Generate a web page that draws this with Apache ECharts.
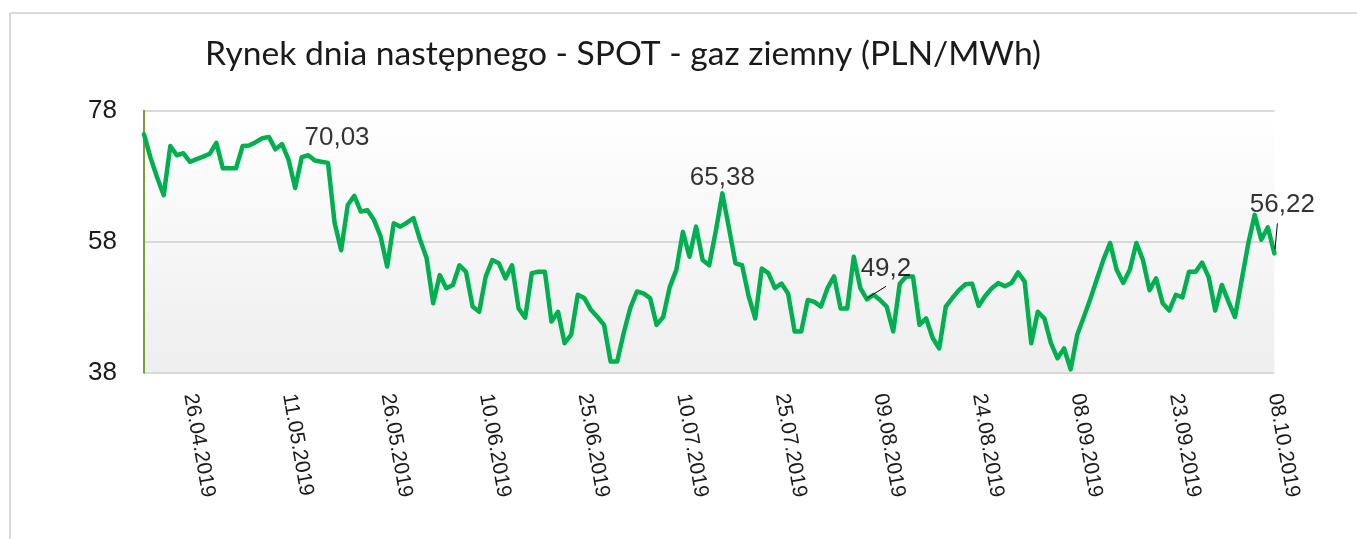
<!DOCTYPE html>
<html><head><meta charset="utf-8">
<script src="https://cdn.jsdelivr.net/npm/echarts@6/dist/echarts.min.js"></script>
<style>html,body{margin:0;padding:0;background:#fff}#c{width:1357px;height:539px}</style>
</head><body><div id="c"></div>
<script>
const chartTitle = 'Rynek dnia następnego - SPOT - gaz ziemny (PLN/MWh)';
const startDate = '2019-04-19';
const prices = [
  74.4, 70.8, 67.8, 65.1, 72.6, 71.2, 71.5, 70.2, 70.6, 71.0,
  71.4, 73.1, 69.2, 69.2, 69.2, 72.6, 72.7, 73.2, 73.8, 74.0,
  72.1, 72.9, 70.5, 66.2, 70.9, 71.2, 70.4, 70.2, 70.03, 60.9,
  56.7, 63.6, 65.0, 62.6, 62.8, 61.3, 58.8, 54.2, 60.8, 60.3,
  60.9, 61.6, 58.3, 55.5, 48.6, 52.9, 50.9, 51.4, 54.4, 53.4,
  48.1, 47.3, 52.7, 55.2, 54.7, 52.4, 54.4, 47.8, 46.4, 53.2,
  53.4, 53.4, 45.8, 47.3, 42.5, 43.8, 49.9, 49.4, 47.6, 46.5,
  45.3, 39.7, 39.7, 44.1, 47.9, 50.4, 50.1, 49.4, 45.3, 46.5,
  51.1, 53.7, 59.5, 55.7, 60.3, 55.2, 54.4, 59.6, 65.38, 60.1,
  54.7, 54.4, 49.7, 46.3, 53.9, 53.2, 50.9, 51.6, 50.1, 44.3,
  44.3, 49.1, 48.8, 48.1, 50.9, 52.7, 47.8, 47.8, 55.7, 50.9,
  49.2, 49.9, 49.1, 48.1, 44.3, 51.6, 52.7, 52.7, 45.3, 46.3,
  43.3, 41.7, 48.1, 49.4, 50.6, 51.5, 51.6, 48.2, 49.7, 50.9,
  51.7, 51.2, 51.7, 53.3, 51.9, 42.5, 47.3, 46.3, 42.5, 40.2,
  41.7, 38.5, 43.8, 46.5, 49.3, 52.3, 55.3, 57.8, 53.7, 51.7,
  53.7, 57.8, 55.2, 50.6, 52.4, 48.6, 47.5, 49.9, 49.5, 53.4,
  53.4, 54.8, 52.6, 47.5, 51.4, 48.9, 46.5, 52.0, 57.6, 62.1,
  58.3, 60.2, 56.22
];
const yTicks = [38, 58, 78];
const labelledIdx = [28, 88, 110, 172];
const leaderIdx = [110, 172];

// category dates (dd.mm.yyyy), one per price
const categories = [];
(function () {
  const d0 = new Date(startDate + 'T00:00:00Z');
  for (let i = 0; i < prices.length; i++) {
    const d = new Date(d0.getTime() + i * 86400000);
    const dd = String(d.getUTCDate()).padStart(2, '0');
    const mm = String(d.getUTCMonth() + 1).padStart(2, '0');
    categories.push(dd + '.' + mm + '.' + d.getUTCFullYear());
  }
})();

const labelOffsets = {28: [9, -25], 88: [0, -16], 110: [19, -31], 172: [8, -49]};
// leader line segments relative to the data point (pixels)
const leaderSeg = {110: [[0, -1], [19, -13]], 172: [[0.6, -4], [3, -30]]};

const chart = echarts.init(document.getElementById('c'), null, {renderer: 'canvas'});
const borderGraphics = [
  {type: 'line', shape: {x1: 10, y1: 13, x2: 1357, y2: 13}, style: {stroke: '#d9d9d9', lineWidth: 2}, silent: true},
  {type: 'line', shape: {x1: 10, y1: 13, x2: 10, y2: 539}, style: {stroke: '#d9d9d9', lineWidth: 2}, silent: true}
];
chart.setOption({
  animation: false,
  backgroundColor: '#ffffff',
  title: {
    text: chartTitle, left: 205, top: 37, padding: 0,
    textStyle: {fontFamily: 'Lato', fontSize: 33.6, fontWeight: 'normal', color: '#1a1a1a'}
  },
  graphic: borderGraphics,
  grid: {
    left: 144, top: 110.7, right: 82.6, bottom: 166.3,
    show: true, borderWidth: 0,
    backgroundColor: new echarts.graphic.LinearGradient(0, 0, 0, 1, [
      {offset: 0, color: '#ffffff'}, {offset: 1, color: '#eeeeee'}
    ])
  },
  xAxis: {
    type: 'category', data: categories, boundaryGap: false,
    axisLine: {show: false}, axisTick: {show: false},
    axisLabel: {
      rotate: -80, margin: 21, fontSize: 21, color: '#1a1a1a',
      fontFamily: 'Liberation Sans',
      interval: function (i) { return i >= 7 && (i - 7) % 15 === 0; }
    },
    splitLine: {show: false}
  },
  yAxis: {
    type: 'value', min: yTicks[0], max: yTicks[yTicks.length - 1], interval: yTicks[1] - yTicks[0],
    axisLine: {show: true, lineStyle: {color: '#7f9a3a', width: 2}},
    axisTick: {show: false},
    axisLabel: {fontSize: 26, margin: 27, color: '#1a1a1a', fontFamily: 'Liberation Sans'},
    splitLine: {show: true, lineStyle: {color: '#d9d9d9', width: 2}}
  },
  series: [
    {
      type: 'line', data: prices, showSymbol: false, symbol: 'none', z: 2,
      lineStyle: {color: '#00B050', width: 4.5, join: 'round', cap: 'round'}
    },
    {
      type: 'scatter', z: 3, symbolSize: 0, silent: true,
      data: labelledIdx.map(function (i) { return [i, prices[i]]; }),
      label: {
        show: true, position: 'inside', fontSize: 26, color: '#000',
        fontFamily: 'Liberation Sans',
        formatter: function (p) { return String(p.value[1]).replace('.', ','); }
      },
      labelLayout: function (p) {
        const o = labelOffsets[labelledIdx[p.dataIndex]];
        return {dx: o[0], dy: o[1], hideOverlap: false};
      }
    }
  ]
});

// leader lines anchored to data points through the chart's own coordinate conversion
const leaders = leaderIdx.map(function (i) {
  const p = chart.convertToPixel({gridIndex: 0}, [i, prices[i]]);
  const s = leaderSeg[i];
  return {
    type: 'line', silent: true, z: 10,
    shape: {x1: p[0] + s[0][0], y1: p[1] + s[0][1], x2: p[0] + s[1][0], y2: p[1] + s[1][1]},
    style: {stroke: '#000', lineWidth: 1}
  };
});
chart.setOption({graphic: borderGraphics.concat(leaders)});
</script></body></html>
